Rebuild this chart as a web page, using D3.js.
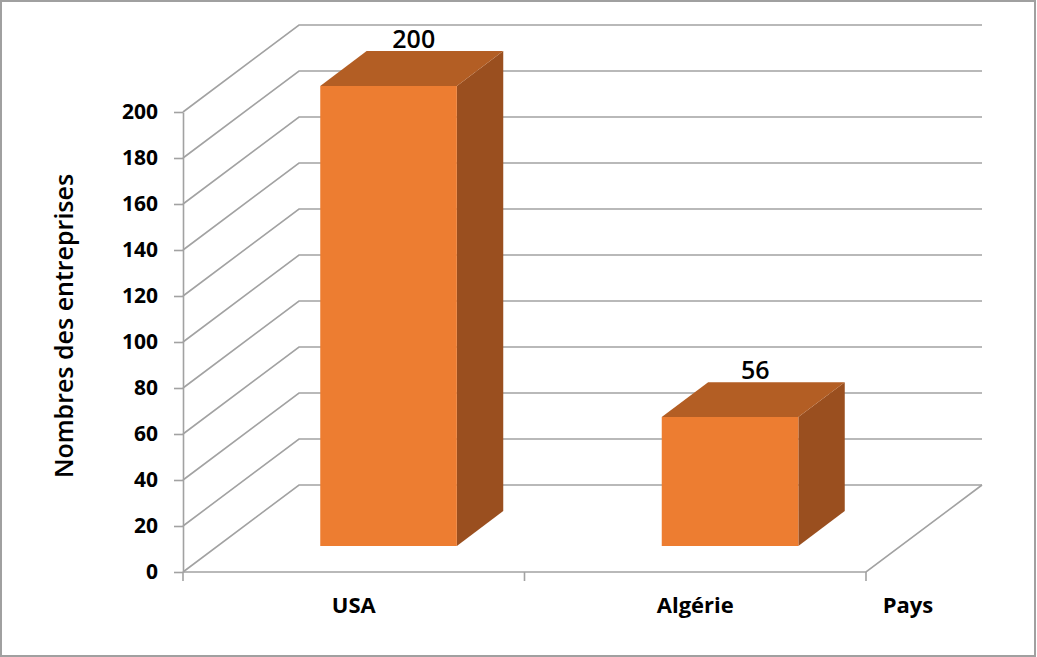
<!DOCTYPE html>
<html>
<head>
<meta charset="utf-8">
<script src="https://cdn.jsdelivr.net/npm/d3@7"></script>
<style>
  html, body { margin: 0; padding: 0; background: #fff; }
  svg { display: block; }
  text { font-family: "Open Sans", "Liberation Sans", sans-serif; fill: #000; }
</style>
</head>
<body>
<svg id="chart" width="1037" height="657"></svg>
<script>
// Number of companies by country
const categories = ["USA", "Algérie"];
const values = [200, 56];
const yTicks = [0, 20, 40, 60, 80, 100, 120, 140, 160, 180, 200];
const yTitle = "Nombres des entreprises";
const xTitle = "Pays";

const svg = d3.select("#chart");
const W = 1037, H = 657;

// Front plane of the 3D box and its depth offset (oblique projection)
const plot = { left: 183, right: 866, bottom: 572, top: 112 };
const depth = { dx: 116, dy: -87 };
const barDepth = [0.3, 0.7];           // bar slab position inside the depth
const gridColor = "#a2a2a2";
const colors = { front: "#ed7d31", top: "#b35e24", side: "#9a4f1f" };

const y = d3.scaleLinear().domain([0, 200]).range([plot.bottom, plot.top]);
const x = d3.scaleBand().domain(categories)
  .range([plot.left, plot.right])
  .paddingInner(0.6).paddingOuter(0.3);

const proj = (px, py, t) => [px + t * depth.dx, py + t * depth.dy];

// outer chart border
svg.append("rect")
  .attr("x", 1).attr("y", 1).attr("width", W - 3).attr("height", H - 2)
  .attr("fill", "none").attr("stroke", "#a0a0a0").attr("stroke-width", 2);

const walls = svg.append("g")
  .attr("fill", "none").attr("stroke", gridColor).attr("stroke-width", 1.6);

// left wall diagonals + back wall gridlines
yTicks.forEach(v => {
  const a = proj(plot.left, y(v), 0);
  const b = proj(plot.left, y(v), 1);
  const c = proj(plot.right, y(v), 1);
  walls.append("polyline").attr("points", [a, b, c].map(p => p.join(",")).join(" "));
});

// floor: front edge and right edge
const fl = proj(plot.left, y(0), 0), fr = proj(plot.right, y(0), 0), br = proj(plot.right, y(0), 1);
walls.append("polyline").attr("points", [fl, fr, br].map(p => p.join(",")).join(" "));

// category boundary ticks on the floor front edge
const half = (x.step() - x.bandwidth()) / 2;
const bounds = categories.map(c => x(c) - half).concat([plot.right]);
walls.selectAll("line.ctick").data(bounds).join("line")
  .attr("class", "ctick")
  .attr("x1", d => d).attr("x2", d => d)
  .attr("y1", plot.bottom).attr("y2", plot.bottom + 9);

// value axis on the front-left edge
const yAxis = d3.axisLeft(y).tickValues(yTicks).tickSize(9).tickSizeOuter(0).tickPadding(16);
const gy = svg.append("g").attr("transform", `translate(${plot.left},0)`).call(yAxis);
gy.select(".domain").attr("stroke", gridColor).attr("stroke-width", 1.6);
gy.selectAll(".tick line").attr("stroke", gridColor).attr("stroke-width", 1.6);
gy.selectAll(".tick text")
  .attr("font-family", null)
  .style("font-size", "21px").style("font-weight", "700").attr("fill", "#000");

// 3D bars
const bars = svg.append("g");
categories.forEach((c, i) => {
  const v = values[i];
  const xl = x(c), xr = x(c) + x.bandwidth();
  const t0 = barDepth[0], t1 = barDepth[1];
  const fTL = proj(xl, y(v), t0), fTR = proj(xr, y(v), t0);
  const fBR = proj(xr, y(0), t0), fBL = proj(xl, y(0), t0);
  const bTL = proj(xl, y(v), t1), bTR = proj(xr, y(v), t1), bBR = proj(xr, y(0), t1);
  const pts = arr => arr.map(p => p.join(",")).join(" ");

  bars.append("polygon").attr("points", pts([fTR, bTR, bBR, fBR])).attr("fill", colors.side);
  bars.append("polygon").attr("points", pts([fTL, fTR, bTR, bTL])).attr("fill", colors.top);
  bars.append("polygon").attr("points", pts([fTL, fTR, fBR, fBL])).attr("fill", colors.front);

  // value label above the top face
  bars.append("text")
    .attr("x", (fTL[0] + bTR[0]) / 2 + 2)
    .attr("y", bTL[1] - 3)
    .attr("text-anchor", "middle")
    .style("font-size", "25px").style("font-weight", "600")
    .text(v);
});

// category labels
svg.append("g").selectAll("text").data(categories).join("text")
  .attr("x", d => x(d) + x.bandwidth() / 2)
  .attr("y", 613)
  .attr("text-anchor", "middle")
  .style("font-size", "22px").style("font-weight", "700")
  .text(d => d);

// axis titles
svg.append("text")
  .attr("x", plot.right + 42).attr("y", 613)
  .attr("text-anchor", "middle")
  .style("font-size", "22px").style("font-weight", "700")
  .text(xTitle);

svg.append("text")
  .attr("transform", `translate(73,${(plot.top + plot.bottom) / 2 - 16}) rotate(-90)`)
  .attr("text-anchor", "middle")
  .style("font-size", "25px").style("font-weight", "600")
  .text(yTitle);
</script>
</body>
</html>
